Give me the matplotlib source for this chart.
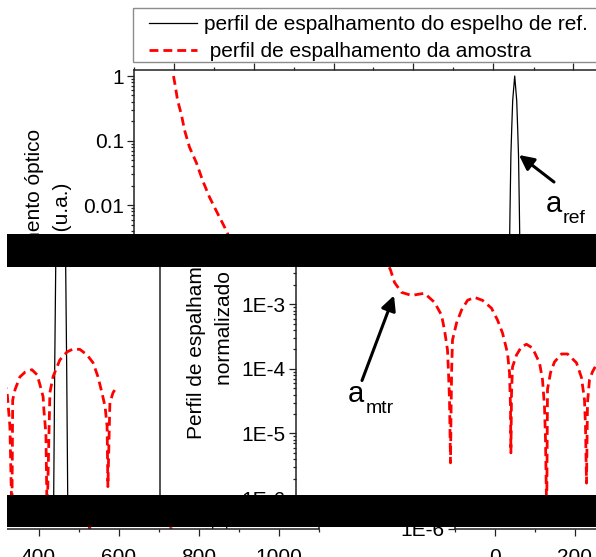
import matplotlib
matplotlib.use("Agg")
import matplotlib.pyplot as plt
from matplotlib.patches import Rectangle, FancyArrowPatch
from matplotlib.lines import Line2D
from matplotlib.text import Text
from matplotlib.transforms import Affine2D, Bbox
from matplotlib.ticker import FixedLocator, FixedFormatter, NullFormatter

plt.rcParams["font.family"] = ["Liberation Sans", "DejaVu Sans"]

# ---------------- data ----------------
# reference mirror scattering profile (solid black)
ref_x = [834, 835.5, 838, 840.5, 841.5, 843.5, 845.5, 848, 853,
         858, 860.5, 862.5, 864.5, 865.5, 868, 870.5, 872]
ref_y = [1e-7, 1.1e-6, 1e-4, 3.6e-3, 0.01, 0.06, 0.15, 0.42, 1.0,
         0.42, 0.15, 0.06, 0.01, 3.6e-3, 1e-4, 1.1e-6, 1e-7]

# sample scattering profile (dashed red)
amostra_x = [0, 5, 10, 20, 27.5, 40, 57.5, 72.5, 90, 110, 127.5, 137.5,
             147.5, 165, 190, 222.5, 247.5, 265, 272.5, 280, 282.5, 285,
             287.5, 289, 290.5, 292.5, 302.5, 315, 330, 347.5, 367.5, 390,
             405, 417.5, 430, 435, 437.5, 438.5, 440, 442.5, 452.5, 465,
             477.5, 492.5, 510, 517.5, 522.5, 525, 528, 530, 537.5, 547.5,
             565, 580, 602.5, 615, 622.5, 625, 627.5, 630, 635, 642.5, 655,
             675, 695, 710, 719, 722, 726, 731, 733, 739, 751, 764, 781,
             794, 801, 809, 811, 816, 819, 826, 834, 851, 869, 884, 901,
             919, 934, 946, 956, 964, 969, 971, 976, 984, 994]
amostra_y = [1.0, 0.675, 0.425, 0.249, 0.146, 0.079, 0.045, 0.0244, 0.0133,
             0.0075, 0.0046, 0.0034, 2.18e-3, 1.53e-3, 1.37e-3, 1.48e-3,
             1.07e-3, 6.8e-4, 4.0e-4, 1.96e-4, 8.7e-5, 3.3e-5, 3.5e-6,
             2.5e-5, 1.0e-4, 2.8e-4, 5.1e-4, 8.1e-4, 1.15e-3, 1.28e-3,
             1.15e-3, 8.7e-4, 5.7e-4, 3.6e-4, 1.76e-4, 8.7e-5, 2.6e-5,
             5e-6, 4e-5, 1.07e-4, 1.64e-4, 2.2e-4, 2.4e-4, 2.1e-4, 1.24e-4,
             6.8e-5, 2.6e-5, 8.1e-6, 5e-7, 4.8e-5, 8.7e-5, 1.28e-4, 1.7e-4,
             1.7e-4, 1.24e-4, 7.3e-5, 3.3e-5, 1.28e-5, 1.7e-6, 3e-5, 6.8e-5,
             9e-5, 1.25e-4, 1.45e-4, 1.2e-4, 7e-5, 4.3e-5, 2.6e-5, 1.28e-5,
             5e-7, 3.3e-5, 4.8e-5, 7.5e-5, 8.9e-5, 9.7e-5, 8.1e-5, 5.7e-5,
             3.7e-5, 2.3e-5, 1.0e-5, 5e-7, 4.3e-5, 7.6e-5, 1.38e-4, 1.83e-4,
             2.03e-4, 2.0e-4, 1.64e-4, 1.24e-4, 7.6e-5, 4.3e-5, 2.6e-5,
             1.28e-5, 1.5e-6, 3e-5, 4.3e-5, 5.3e-5]

legend_labels = ["perfil de espalhamento do espelho de ref.",
                 " perfil de espalhamento da amostra"]
y_label_lines = ["Perfil de espalhamento óptico", "normalizado (u.a.)"]
xtick_values = [0, 200, 400, 600, 800, 1000]
xtick_labels = ["0", "200", "400", "600", "800", "1000"]
xminor_values = [-100, 100, 300, 500, 700, 900, 1100]
ytick_values = [1e-6, 1e-5, 1e-4, 1e-3, 1e-2, 1e-1, 1]
ytick_labels = ["1E-6", "1E-5", "1E-4", "1E-3", "0.01", "0.1", "1"]
yminor_values = [k * 10.0 ** e for e in range(-6, 1) for k in range(2, 10)]
x_limits = (-100, 1100)
y_limits = (1e-6, 1.24)

# ---------------- layout (pixels, origin at top-left) ----------------
FIG_W, FIG_H = 596, 557
FRAME_L, FRAME_T, FRAME_R, FRAME_B = 133.5, 70.0, 613.5, 463.5
PAGE_W = 616          # horizontal period of the shifted bands
BAR_X0 = 7
BANDS = [             # top, bottom, x shift, y shift
    (0, 234, 0, 0.0),
    (267, 495, 162, 34.5),
    (527, 557, 321, 65.3),
]
BARS = [(BAR_X0, 234, FIG_W, 267), (BAR_X0, 495, FIG_W, 527)]

FS = 15
AXIS_COLOR = "#222222"

fig = plt.figure(figsize=(FIG_W / 100, FIG_H / 100), dpi=100)
fig.patch.set_facecolor("white")


def draw_copy(dx, dy, x0, x1, top, bottom):
    clip = Bbox.from_extents(x0, FIG_H - bottom, x1, FIG_H - top)
    page = Affine2D().scale(1, -1).translate(dx, FIG_H - dy)

    ax = fig.add_axes([(FRAME_L + dx) / FIG_W,
                       (FIG_H - FRAME_B - dy) / FIG_H,
                       (FRAME_R - FRAME_L) / FIG_W,
                       (FRAME_B - FRAME_T) / FIG_H])
    ax.patch.set_visible(False)
    ax.plot(ref_x, ref_y, color="black", lw=0.9)
    ax.plot(amostra_x, amostra_y, color="red", lw=2.0, dashes=(3.2, 1.8))
    ax.set_yscale("log")
    ax.set_xlim(*x_limits)
    ax.set_ylim(*y_limits)
    ax.xaxis.set_major_locator(FixedLocator(xtick_values))
    ax.xaxis.set_major_formatter(FixedFormatter(xtick_labels))
    ax.xaxis.set_minor_locator(FixedLocator(xminor_values))
    ax.xaxis.set_minor_formatter(NullFormatter())
    ax.yaxis.set_major_locator(FixedLocator(ytick_values))
    ax.yaxis.set_major_formatter(FixedFormatter(ytick_labels))
    ax.yaxis.set_minor_locator(FixedLocator(yminor_values))
    ax.yaxis.set_minor_formatter(NullFormatter())
    ax.tick_params(axis="both", which="both", direction="out", top=True,
                   right=False, labeltop=False, labelright=False,
                   labelsize=FS, width=0.9, color=AXIS_COLOR)
    ax.tick_params(which="major", length=5.0)
    ax.tick_params(which="minor", length=2.5)
    ax.tick_params(axis="y", pad=2)
    ax.tick_params(axis="x", pad=9)
    for sp in ax.spines.values():
        sp.set_linewidth(1.1)
        sp.set_color(AXIS_COLOR)

    extras = []
    # legend
    extras.append(Rectangle((133, 8), 481, 54, transform=page, fill=False,
                            ec="#8c8c8c", lw=1.0))
    extras.append(Line2D([149, 197], [23, 23], transform=page,
                         color="black", lw=0.9))
    extras.append(Line2D([149, 197], [50, 50], transform=page,
                         color="red", lw=2.0, dashes=(3.2, 1.8)))
    extras.append(Text(204, 30, legend_labels[0], transform=page,
                       fontsize=FS, va="baseline", ha="left"))
    extras.append(Text(204, 57, legend_labels[1], transform=page,
                       fontsize=FS, va="baseline", ha="left"))
    # y axis title, two lines
    yc = (FRAME_T + FRAME_B) / 2
    extras.append(Text(40, yc, y_label_lines[0], transform=page, fontsize=FS,
                       rotation=90, rotation_mode="anchor",
                       ha="center", va="baseline"))
    extras.append(Text(68, yc, y_label_lines[1], transform=page, fontsize=FS,
                       rotation=90, rotation_mode="anchor",
                       ha="center", va="baseline"))
    # annotations
    for (tx, ty), (hx, hy), (ax_, ay_), (sx, sy), sub in [
        ((554, 182), (519, 155), (546, 212), (563, 223), "ref"),
        ((200, 346), (232, 261), (186, 367.5), (204, 378.5), "mtr"),
    ]:
        extras.append(FancyArrowPatch((tx, ty), (hx, hy), transform=page,
                                      arrowstyle="-|>", mutation_scale=22,
                                      shrinkA=0, shrinkB=0, lw=2.2,
                                      color="black"))
        extras.append(Text(ax_, ay_, "a", transform=page, fontsize=21,
                           va="baseline", ha="left"))
        extras.append(Text(sx, sy, sub, transform=page, fontsize=14,
                           va="baseline", ha="left"))
    for a in extras:
        fig.add_artist(a)
    return ax, extras, clip


copies = []
for top, bottom, dx, dy in BANDS:
    copies.append(draw_copy(dx, dy, dx, FIG_W, top, bottom))
    if dx > BAR_X0:
        copies.append(draw_copy(dx - PAGE_W, dy, BAR_X0, dx, top, bottom))

bar_page = Affine2D().scale(1, -1).translate(0, FIG_H)
for bx0, by0, bx1, by1 in BARS:
    fig.add_artist(Rectangle((bx0, by0), bx1 - bx0, by1 - by0,
                             transform=bar_page, fc="black", ec="none",
                             zorder=100))

fig.canvas.draw()
renderer = fig.canvas.get_renderer()
for ax, extras, clip in copies:
    objs = list(ax.findobj())
    for e in extras:
        objs.extend(e.findobj())
    for obj in objs:
        obj.set_clip_box(clip)
        obj.set_clip_on(True)
        # texts lying wholly outside this band are not drawn at all
        if isinstance(obj, Text) and obj.get_text() and obj.get_visible():
            ext = obj.get_window_extent(renderer)
            if not ext.overlaps(clip):
                obj.set_visible(False)
    # data curves stay inside the plot frame as well
    frame_clip = Bbox.intersection(clip, ax.bbox.frozen())
    for line in ax.lines:
        if frame_clip is None:
            line.set_visible(False)
        else:
            line.set_clip_box(frame_clip)

fig.savefig("out.png", dpi=100)
